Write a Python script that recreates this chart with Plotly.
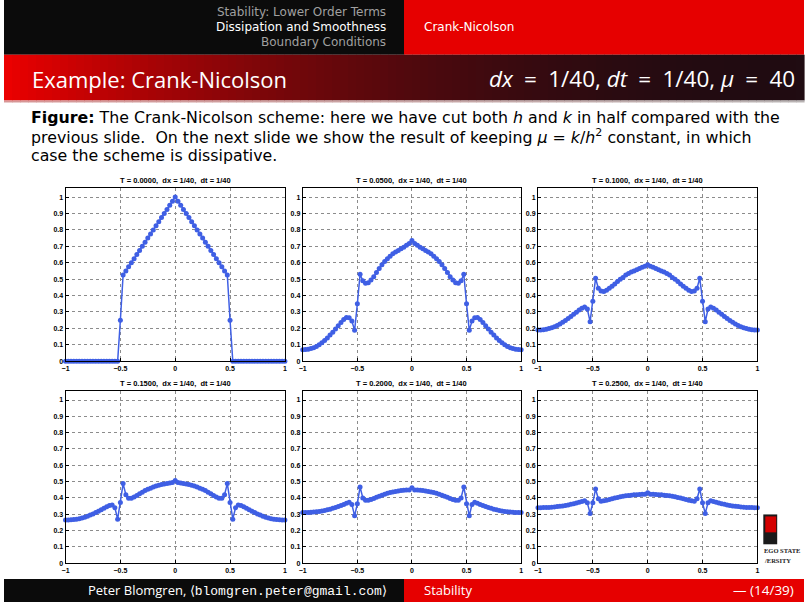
import numpy as np
import plotly.graph_objects as go

W, H = 806, 605

# ---------------- data ----------------
x_grid = np.linspace(-1, 1, 81)

titles = [
    "T = 0.0000,  dx = 1/40,  dt = 1/40",
    "T = 0.0500,  dx = 1/40,  dt = 1/40",
    "T = 0.1000,  dx = 1/40,  dt = 1/40",
    "T = 0.1500,  dx = 1/40,  dt = 1/40",
    "T = 0.2000,  dx = 1/40,  dt = 1/40",
    "T = 0.2500,  dx = 1/40,  dt = 1/40",
]

u_t000 = [0, 0, 0, 0, 0, 0, 0, 0, 0, 0, 0, 0, 0, 0, 0, 0, 0, 0, 0, 0,
          0.25,
          0.525, 0.55, 0.575, 0.6, 0.625, 0.65, 0.675, 0.7, 0.725, 0.75,
          0.775, 0.8, 0.825, 0.85, 0.875, 0.9, 0.925, 0.95, 0.975, 1.0,
          0.975, 0.95, 0.925, 0.9, 0.875, 0.85, 0.825, 0.8, 0.775, 0.75,
          0.725, 0.7, 0.675, 0.65, 0.625, 0.6, 0.575, 0.55, 0.525,
          0.25,
          0, 0, 0, 0, 0, 0, 0, 0, 0, 0, 0, 0, 0, 0, 0, 0, 0, 0, 0, 0]

u_t050 = [0.07, 0.071, 0.073, 0.077, 0.082, 0.09, 0.10, 0.112, 0.126, 0.142,
          0.159, 0.177, 0.196, 0.216, 0.236, 0.254, 0.266, 0.265, 0.245, 0.188,
          0.35,
          0.53, 0.49, 0.475, 0.478, 0.495, 0.515, 0.54, 0.565, 0.587, 0.607,
          0.624, 0.64, 0.654, 0.665, 0.675, 0.685, 0.695, 0.706, 0.717, 0.735,
          0.717, 0.706, 0.695, 0.685, 0.675, 0.665, 0.654, 0.64, 0.624, 0.607,
          0.587, 0.565, 0.54, 0.515, 0.495, 0.478, 0.475, 0.49, 0.53,
          0.35,
          0.188, 0.245, 0.265, 0.266, 0.254, 0.236, 0.216, 0.196, 0.177, 0.159,
          0.142, 0.126, 0.112, 0.10, 0.09, 0.082, 0.077, 0.073, 0.071, 0.07]

u_t100 = [0.19, 0.19, 0.192, 0.195, 0.199, 0.204, 0.21, 0.218, 0.227, 0.237,
          0.248, 0.26, 0.273, 0.286, 0.299, 0.312, 0.323, 0.33, 0.318, 0.24,
          0.365,
          0.505, 0.445, 0.428, 0.425, 0.432, 0.445, 0.457, 0.47, 0.485, 0.50,
          0.51, 0.525, 0.535, 0.543, 0.55, 0.557, 0.565, 0.572, 0.578, 0.588,
          0.578, 0.572, 0.565, 0.557, 0.55, 0.543, 0.535, 0.525, 0.51, 0.50,
          0.485, 0.47, 0.457, 0.445, 0.432, 0.425, 0.428, 0.445, 0.505,
          0.365,
          0.24, 0.318, 0.33, 0.323, 0.312, 0.299, 0.286, 0.273, 0.26, 0.248,
          0.237, 0.227, 0.218, 0.21, 0.204, 0.199, 0.195, 0.192, 0.19, 0.19]

u_t150 = [0.265, 0.265, 0.266, 0.268, 0.27, 0.273, 0.277, 0.282, 0.288, 0.295,
          0.302, 0.31, 0.319, 0.328, 0.337, 0.346, 0.354, 0.357, 0.34, 0.27,
          0.372,
          0.488, 0.42, 0.398, 0.398, 0.405, 0.415, 0.425, 0.435, 0.445, 0.453,
          0.46, 0.467, 0.473, 0.478, 0.482, 0.486, 0.489, 0.491, 0.494, 0.507,
          0.494, 0.491, 0.489, 0.486, 0.482, 0.478, 0.473, 0.467, 0.46, 0.453,
          0.445, 0.435, 0.425, 0.415, 0.405, 0.398, 0.398, 0.42, 0.488,
          0.372,
          0.27, 0.34, 0.357, 0.354, 0.346, 0.337, 0.328, 0.319, 0.31, 0.302,
          0.295, 0.288, 0.282, 0.277, 0.273, 0.27, 0.268, 0.266, 0.265, 0.265]

u_t200 = [0.31, 0.31, 0.311, 0.312, 0.313, 0.315, 0.317, 0.32, 0.323, 0.327,
          0.331, 0.336, 0.341, 0.347, 0.353, 0.36, 0.367, 0.374, 0.36, 0.29,
          0.365,
          0.467, 0.40, 0.385, 0.385, 0.39, 0.397, 0.404, 0.411, 0.417, 0.423,
          0.428, 0.433, 0.437, 0.44, 0.443, 0.445, 0.447, 0.448, 0.449, 0.462,
          0.449, 0.448, 0.447, 0.445, 0.443, 0.44, 0.437, 0.433, 0.428, 0.423,
          0.417, 0.411, 0.404, 0.397, 0.39, 0.385, 0.385, 0.40, 0.467,
          0.365,
          0.29, 0.36, 0.374, 0.367, 0.36, 0.353, 0.347, 0.341, 0.336, 0.331,
          0.327, 0.323, 0.32, 0.317, 0.315, 0.313, 0.312, 0.311, 0.31, 0.31]

u_t250 = [0.34, 0.34, 0.341, 0.341, 0.342, 0.343, 0.345, 0.347, 0.349, 0.351,
          0.354, 0.357, 0.361, 0.365, 0.369, 0.373, 0.378, 0.383, 0.37, 0.305,
          0.37,
          0.455, 0.395, 0.38, 0.382, 0.386, 0.39, 0.395, 0.399, 0.403, 0.407,
          0.41, 0.413, 0.415, 0.417, 0.419, 0.42, 0.421, 0.422, 0.422, 0.432,
          0.422, 0.422, 0.421, 0.42, 0.419, 0.417, 0.415, 0.413, 0.41, 0.407,
          0.403, 0.399, 0.395, 0.39, 0.386, 0.382, 0.38, 0.395, 0.455,
          0.37,
          0.305, 0.37, 0.383, 0.378, 0.373, 0.369, 0.365, 0.361, 0.357, 0.354,
          0.351, 0.349, 0.347, 0.345, 0.343, 0.342, 0.341, 0.341, 0.34, 0.34]

series = [u_t000, u_t050, u_t100, u_t150, u_t200, u_t250]
for s in series:
    assert len(s) == 81, len(s)

x_tickvals = [-1, -0.5, 0, 0.5, 1]
x_ticktext = ["\u22121", "\u22120.5", "0", "0.5", "1"]
y_tickvals = [0, 0.1, 0.2, 0.3, 0.4, 0.5, 0.6, 0.7, 0.8, 0.9, 1]
y_ticktext = ["0", "0.1", "0.2", "0.3", "0.4", "0.5", "0.6", "0.7", "0.8", "0.9", "1"]

# ---------------- helpers ----------------
def px(x):
    return x / W

def py(y):
    return 1 - y / H

SANS = "Open Sans"
CAPF = "DejaVu Sans"
PLOTF = "Liberation Sans"

fig = go.Figure()
shapes = []
annotations = []

# header bars
shapes.append(dict(type="rect", xref="paper", yref="paper", x0=0, x1=px(403),
                   y0=py(55), y1=1, fillcolor="#0b0b0b", line_width=0, layer="below"))
shapes.append(dict(type="rect", xref="paper", yref="paper", x0=px(403), x1=1,
                   y0=py(55), y1=1, fillcolor="#e60000", line_width=0, layer="below"))

# title bar gradient
nstrip = 100
for k in range(nstrip):
    t = k / (nstrip - 1)
    f = (1 - t) ** 2
    r = int(235 * f + 32 * (1 - f))
    g = int(0 * f + 12 * (1 - f))
    b = int(0 * f + 18 * (1 - f))
    x0 = W * k / nstrip
    x1 = W * (k + 1) / nstrip + 0.6
    shapes.append(dict(type="rect", xref="paper", yref="paper", x0=px(x0), x1=px(x1),
                       y0=py(101), y1=py(55), fillcolor=f"rgb({r},{g},{b})",
                       line_width=0, layer="below"))
    r2 = int(215 * (1 - t) + 185 * t)
    g2 = int(150 * (1 - t) + 180 * t)
    b2 = int(150 * (1 - t) + 180 * t)
    shapes.append(dict(type="rect", xref="paper", yref="paper", x0=px(x0), x1=px(x1),
                       y0=py(103), y1=py(101), fillcolor=f"rgb({r2},{g2},{b2})",
                       line_width=0, layer="below"))

# footer
shapes.append(dict(type="rect", xref="paper", yref="paper", x0=0, x1=px(403),
                   y0=0, y1=py(582), fillcolor="#0b0b0b", line_width=0, layer="below"))
shapes.append(dict(type="rect", xref="paper", yref="paper", x0=px(403), x1=1,
                   y0=0, y1=py(582), fillcolor="#e60000", line_width=0, layer="below"))

# logo (partially hidden)
shapes.append(dict(type="rect", xref="paper", yref="paper", x0=px(765), x1=px(779),
                   y0=py(547), y1=py(517), fillcolor="#1a1a1a", line_width=0, layer="below"))
shapes.append(dict(type="rect", xref="paper", yref="paper", x0=px(767), x1=px(778),
                   y0=py(535), y1=py(519), fillcolor="#d40000", line_width=0, layer="below"))
annotations.append(dict(x=px(764), y=py(553), xref="paper", yref="paper", xanchor="left",
                        yanchor="middle", showarrow=False, text="<b>EGO STATE</b>",
                        font=dict(family="Liberation Serif", size=6.5, color="#222")))
annotations.append(dict(x=px(764), y=py(563), xref="paper", yref="paper", xanchor="left",
                        yanchor="middle", showarrow=False, text="<b>/ERSITY</b>",
                        font=dict(family="Liberation Serif", size=6.5, color="#222")))

# header texts
hdr = [("Stability: Lower Order Terms", "#a0a0a0", 12),
       ("Dissipation and Smoothness", "#ffffff", 27),
       ("Boundary Conditions", "#a0a0a0", 42)]
for txt, col, yy in hdr:
    annotations.append(dict(x=px(387), y=py(yy), xref="paper", yref="paper",
                            xanchor="right", yanchor="middle", showarrow=False, text=txt,
                            font=dict(family=CAPF, size=12, color=col)))
annotations.append(dict(x=px(421), y=py(27), xref="paper", yref="paper",
                        xanchor="left", yanchor="middle", showarrow=False,
                        text="Crank-Nicolson", font=dict(family=CAPF, size=12, color="white")))

# title
annotations.append(dict(x=px(26), y=py(79), xref="paper", yref="paper", xanchor="left",
                        yanchor="middle", showarrow=False, text="Example: Crank-Nicolson",
                        font=dict(family=SANS, size=22, color="white")))
annotations.append(dict(x=px(799), y=py(79), xref="paper", yref="paper", xanchor="right",
                        yanchor="middle", showarrow=False,
                        text="<i>dx</i>\u2002=\u20021/40, <i>dt</i>\u2002=\u20021/40, <i>\u03bc</i>\u2002=\u200240",
                        font=dict(family=SANS, size=22.5, color="white")))

# caption
cap = ["<b>Figure:</b> The Crank-Nicolson scheme: here we have cut both <i>h</i> and <i>k</i> in half compared with the",
       "previous slide.  On the next slide we show the result of keeping <i>\u03bc</i> = <i>k</i>/<i>h</i><sup>2</sup> constant, in which",
       "case the scheme is dissipative."]
for i, line in enumerate(cap):
    annotations.append(dict(x=px(25), y=py(118 + 19 * i), xref="paper", yref="paper",
                            xanchor="left", yanchor="middle", showarrow=False, text=line,
                            font=dict(family=CAPF, size=15.8, color="black")))

# footer texts
annotations.append(dict(x=px(388), y=py(593), xref="paper", yref="paper", xanchor="right",
                        yanchor="middle", showarrow=False,
                        text="Peter Blomgren, \u27e8<span style='font-family:Liberation Mono'>blomgren.peter@gmail.com</span>\u27e9",
                        font=dict(family=SANS, size=13, color="white")))
annotations.append(dict(x=px(421), y=py(593), xref="paper", yref="paper", xanchor="left",
                        yanchor="middle", showarrow=False, text="Stability",
                        font=dict(family=SANS, size=13, color="white")))
annotations.append(dict(x=px(798), y=py(593), xref="paper", yref="paper", xanchor="right",
                        yanchor="middle", showarrow=False, text="\u2014 (14/39)",
                        font=dict(family=SANS, size=13.5, color="white")))

# ---------------- panels ----------------
cols = [(62, 283), (301, 521), (538, 759)]
rows = [(189, 363), (393, 566)]
line_col = "#3f5fe4"

layout_axes = {}
for k, (ys, ttl) in enumerate(zip(series, titles)):
    r, c = divmod(k, 3)
    x0, x1 = cols[c]
    y0, y1 = rows[r]
    n = "" if k == 0 else str(k + 1)
    fig.add_trace(go.Scatter(x=x_grid, y=ys, mode="lines+markers",
                             xaxis="x" + n, yaxis="y" + n,
                             line=dict(color=line_col, width=1.5),
                             marker=dict(symbol="circle", size=5, color=line_col,
                                         line=dict(width=0)),
                             showlegend=False, hoverinfo="skip", cliponaxis=False))
    common = dict(showline=True, linecolor="black", linewidth=1, mirror=True,
                  ticks="inside", ticklen=3, tickcolor="black",
                  showgrid=True, gridcolor="#8c8c8c", griddash="dot", gridwidth=0.8,
                  zeroline=False,
                  tickfont=dict(family=PLOTF, size=7, color="black", weight="bold"))
    layout_axes["xaxis" + n] = dict(domain=[px(x0), px(x1)], range=[-1, 1],
                                    tickvals=x_tickvals, ticktext=x_ticktext,
                                    anchor="y" + n, **common)
    layout_axes["yaxis" + n] = dict(domain=[py(y1), py(y0)], range=[0, 1.055],
                                    tickvals=y_tickvals, ticktext=y_ticktext,
                                    anchor="x" + n, **common)
    annotations.append(dict(x=px((x0 + x1) / 2), y=py(y0 - 8), xref="paper", yref="paper",
                            xanchor="center", yanchor="middle", showarrow=False,
                            text="<b>" + ttl + "</b>",
                            font=dict(family=PLOTF, size=7.5, color="black")))

fig.update_layout(width=W, height=H, margin=dict(l=0, r=0, t=0, b=0),
                  paper_bgcolor="white", plot_bgcolor="white",
                  shapes=shapes, annotations=annotations, **layout_axes)

fig.write_html("out.html", config={"displayModeBar": False})
